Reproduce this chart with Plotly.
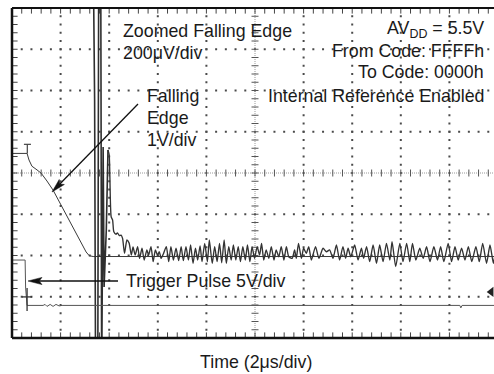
import numpy as np
import plotly.graph_objects as go

# ---------------------------------------------------------------------------
# Scope capture: DAC output stepping from code FFFFh to 0000h
# Time base 2 us/div; channel scales noted per trace.
# ---------------------------------------------------------------------------

# Zoomed falling edge, 200 uV/div (deviation from final output level, uV)
zoom_t = [3.34, 3.40, 3.44, 3.53, 3.57, 3.65, 3.69, 3.75, 3.79, 3.88,
          3.95, 4.00, 4.08, 4.14, 4.19, 4.28, 4.34, 4.42, 4.49, 4.55,
          4.63, 4.73, 4.82, 4.91, 4.98, 5.07, 5.17, 5.25, 5.35, 5.44,
          5.55, 5.62, 5.72, 5.81, 5.90, 5.99, 6.06, 6.14, 6.24, 6.35,
          6.45, 6.54, 6.64, 6.75, 6.86, 6.96, 7.05, 7.16, 7.26, 7.35,
          7.45, 7.55, 7.64, 7.74, 7.82, 7.93, 8.04, 8.12, 8.24, 8.34,
          8.44, 8.54, 8.63, 8.73, 8.82, 8.92, 9.02, 9.11, 9.21, 9.31,
          9.40, 9.50, 9.60, 9.69, 9.79, 9.88, 9.98, 10.09, 10.19, 10.27,
          10.36, 10.46, 10.57, 10.67, 10.78, 10.87, 10.98, 11.08, 11.19, 11.29,
          11.39, 11.53, 11.63, 11.70, 11.79, 11.91, 12.00, 12.11, 12.21, 12.32,
          12.49, 12.63, 12.80, 12.94, 13.07, 13.21, 13.35, 13.48, 13.62, 13.73,
          13.83, 13.94, 14.10, 14.24, 14.38, 14.47, 14.59, 14.72, 14.86, 15.00,
          15.13, 15.27, 15.41, 15.55, 15.64, 15.79, 15.96, 16.09, 16.24, 16.37,
          16.48, 16.62, 16.78, 16.92, 17.06, 17.20, 17.36, 17.51, 17.64, 17.77,
          17.95, 18.09, 18.23, 18.36, 18.50, 18.64, 18.78, 18.92, 19.09, 19.23,
          19.37, 19.53, 19.67, 19.81, 19.88, 20.00]
zoom_uv = [1500, 759, -600, -600, 1500, 1500, -600, 531, -148, 129,
           517, 492, 193, 177, 120, 108, 115, 101, 104, 88,
           16, 80, 65, 7, 46, 7, 48, -9, 40, -17,
           32, 7, 48, -25, 32, 7, 23, -9, 16, 48,
           -25, 48, -17, 40, -20, 48, -20, 48, -17, 56,
           -33, 40, -17, 51, -25, 64, -25, 80, -33, 48,
           -25, 64, -30, 80, -33, 48, -17, 56, -17, 48,
           -25, 48, -17, 56, -25, 48, -9, 48, 7, 64,
           -17, 32, -9, 48, -17, 32, -1, 48, -17, 48,
           -1, -9, 32, -9, 64, -9, 40, 16, 48, -17,
           48, -9, 40, 23, 32, -9, 56, -17, 48, -9,
           40, -1, 56, -17, 40, -9, 48, -25, 56, -33,
           56, -25, 64, -17, 72, -49, 64, -25, 64, -25,
           64, -17, 40, -9, 48, -25, 48, -17, 48, -25,
           64, -25, 48, -17, 40, -17, 48, -25, 48, -25,
           64, -33, 56, -33, 7, 30]
N_GLITCH = 10  # first samples: glitch swinging across the whole screen

# Falling edge, 1 V/div (output voltage, V)
edge_t = [0.00, 0.62, 0.70, 0.82, 1.03, 1.20, 1.44, 1.69, 3.05, 3.18, 3.34, 20.00]
edge_v = [2.50, 2.50, 2.34, 2.19, 2.10, 2.02, 1.83, 1.61, 0.11, 0.02, 0.00, 0.00]
# channel reference marker (T) for the falling-edge trace
edge_ref_t = [0.49, 0.78, None, 0.63, 0.63]
edge_ref_v = [2.72, 2.72, None, 2.72, 2.50]

# Trigger pulse, 5 V/div (V)
trig_t = [0.00, 0.54, 0.56, 0.62, 1.28, 1.36, 1.44, 1.57, 1.69, 1.81,
          1.94, 2.06, 18.43, 18.47, 18.52, 20.00]
trig_v = [5.50, 5.50, 2.10, 0.00, 0.00, 0.12, -0.12, 0.12, -0.12, 0.12,
          -0.06, 0.00, 0.00, -0.30, 0.00, 0.00]
# ground marker (+) for the trigger channel
trig_ref_t = [0.41, 0.82, None, 0.62, 0.62]
trig_ref_v = [1.03, 1.03, None, 2.10, -0.67]
# trigger level indicator
trig_level_t = [19.72]
trig_level_v = [1.64]

assert len(zoom_t) == len(zoom_uv)

# ---------------------------------------------------------------------------
# Screen geometry: 8 vertical divisions, time window of ~9.9 divisions
# ---------------------------------------------------------------------------
US_PER_DIV = 2.0
X_END = 19.835
N_YDIV = 8

# where each channel's zero sits on screen (in divisions from the bottom)
EDGE_ZERO_DIV = 1.975
ZOOM_ZERO_DIV = 1.975
TRIG_ZERO_DIV = 0.79

def chan_range(zero_div, per_div):
    return [-zero_div * per_div, (N_YDIV - zero_div) * per_div]

INK = "#1a1a1a"
FONT = "Liberation Sans, Arial, Helvetica, sans-serif"
FS = 17.8

fig = go.Figure()

# --- graticule -------------------------------------------------------------
minor_x = np.arange(0, X_END + 1e-9, US_PER_DIV / 5)
minor_y = np.arange(0, N_YDIV + 1e-9, 0.2)
major_x = [k * US_PER_DIV for k in range(1, 10) if k != 5]
major_y = [k for k in range(1, N_YDIV) if k != 4]

gx, gy = [], []
for xv in major_x:
    gx += [xv] * len(minor_y)
    gy += list(minor_y)
for yv in major_y:
    gx += list(minor_x)
    gy += [yv] * len(minor_x)
fig.add_trace(go.Scatter(x=gx, y=gy, mode="markers", hoverinfo="skip",
                         marker=dict(symbol="square", size=2, color="#4a4a4a",
                                     line=dict(width=0))))

# centre cross-hair: fine dotted lines with minor ticks
cx = 5 * US_PER_DIV
fig.add_trace(go.Scatter(x=[0, X_END], y=[4, 4], mode="lines", hoverinfo="skip",
                         line=dict(color="#9a9a9a", width=1, dash="1px,1px")))
fig.add_trace(go.Scatter(x=[cx, cx], y=[0, N_YDIV], mode="lines", hoverinfo="skip",
                         line=dict(color="#9a9a9a", width=1, dash="1px,1px")))
fig.add_trace(go.Scatter(x=minor_x, y=[4] * len(minor_x), mode="markers",
                         hoverinfo="skip",
                         marker=dict(symbol="line-ns", size=5,
                                     line=dict(color="#555", width=1))))
fig.add_trace(go.Scatter(x=[cx] * len(minor_y), y=minor_y, mode="markers",
                         hoverinfo="skip",
                         marker=dict(symbol="line-ew", size=5,
                                     line=dict(color="#555", width=1))))

# ticks along the frame
fig.add_trace(go.Scatter(x=list(minor_x) * 2,
                         y=[N_YDIV] * len(minor_x) + [0] * len(minor_x),
                         mode="markers", hoverinfo="skip",
                         marker=dict(symbol="line-ns", size=8,
                                     line=dict(color="#444", width=1))))
fig.add_trace(go.Scatter(x=[0] * len(minor_y), y=minor_y,
                         mode="markers", hoverinfo="skip",
                         marker=dict(symbol="line-ew", size=8,
                                     line=dict(color="#444", width=1))))

# --- traces ----------------------------------------------------------------
fig.add_trace(go.Scatter(x=trig_t, y=trig_v, yaxis="y4", mode="lines",
                         hoverinfo="skip", line=dict(color="#555", width=1)))
fig.add_trace(go.Scatter(x=trig_ref_t, y=trig_ref_v, yaxis="y4", mode="lines",
                         hoverinfo="skip", line=dict(color="#333", width=1.3)))
fig.add_trace(go.Scatter(x=trig_level_t, y=trig_level_v, yaxis="y4",
                         mode="markers", hoverinfo="skip",
                         marker=dict(symbol="triangle-left", size=9, color="#222")))

fig.add_trace(go.Scatter(x=edge_t, y=edge_v, yaxis="y2", mode="lines",
                         hoverinfo="skip", line=dict(color="#3a3a3a", width=1)))
fig.add_trace(go.Scatter(x=edge_ref_t, y=edge_ref_v, yaxis="y2", mode="lines",
                         hoverinfo="skip", line=dict(color="#444", width=1.2)))

fig.add_trace(go.Scatter(x=zoom_t[:N_GLITCH + 1], y=zoom_uv[:N_GLITCH + 1],
                         yaxis="y3", mode="lines", hoverinfo="skip",
                         line=dict(color="#2e2e2e", width=1.6)))
fig.add_trace(go.Scatter(x=zoom_t[N_GLITCH:], y=zoom_uv[N_GLITCH:],
                         yaxis="y3", mode="lines", hoverinfo="skip",
                         line=dict(color="#333", width=1.35, shape="spline",
                                   smoothing=0.6)))

# --- layout helpers (pixel -> paper) ---------------------------------------
W, H = 494, 374
ML, MT, MB = 12, 8, 36
PW, PH = W - ML, H - MT - MB

def px(xp):
    return (xp - ML) / PW

def py(yp):
    return (H - MB - yp) / PH

# --- frame (no right edge: the screen runs past the window) -----------------
frame = dict(type="line", xref="paper", yref="paper", layer="above",
             line=dict(color="#111", width=2.5))
shapes = [
    dict(frame, x0=0, x1=0, y0=0, y1=1),
    dict(frame, x0=0, x1=1, y0=1, y1=1, line=dict(color="#111", width=2)),
    dict(frame, x0=0, x1=1, y0=0, y1=0),
]

# callout arrows: a shaft plus a filled, slightly notched head
def arrow_shapes(tip, tail, length=14.0, half=3.6, color="#111"):
    tip = np.asarray(tip, float)
    tail = np.asarray(tail, float)
    u = (tip - tail) / np.linalg.norm(tip - tail)
    n = np.array([-u[1], u[0]])
    back = tip - u * length
    left, right = back + n * half, back - n * half
    notch = tip - u * length * 0.8
    pts = [tip, left, notch, right]
    path = "M " + " L ".join(f"{px(p[0]):.5f},{py(p[1]):.5f}" for p in pts) + " Z"
    return [
        dict(type="line", xref="paper", yref="paper", layer="above",
             x0=px(tail[0]), y0=py(tail[1]), x1=px(notch[0]), y1=py(notch[1]),
             line=dict(color=color, width=1.3)),
        dict(type="path", xref="paper", yref="paper", layer="above", path=path,
             fillcolor=color, line=dict(color=color, width=0.5)),
    ]

shapes += arrow_shapes((52, 192), (138, 104))
shapes += arrow_shapes((28, 281), (118, 281))

# --- labels ----------------------------------------------------------------
def label(text, xp, yp, anchor="left", size=FS):
    return dict(text=text, x=px(xp), y=py(yp), xref="paper", yref="paper",
                xanchor=anchor, yanchor="middle", showarrow=False,
                align=anchor, font=dict(family=FONT, size=size, color=INK))

annotations = [
    label("Zoomed Falling Edge", 121, 31),
    label("200\u03bcV/div", 121, 53),
    label("AV<sub>DD</sub> = 5.5V", 486, 30, anchor="right"),
    label("From Code: FFFFh", 486, 51, anchor="right"),
    label("To Code: 0000h", 486, 72, anchor="right"),
    label("Internal Reference Enabled", 486, 96, anchor="right"),
    label("Falling", 145, 96),
    label("Edge", 145, 118),
    label("1V/div", 145, 140),
    label("Trigger Pulse 5V/div", 124, 281),
    label("Time (2\u03bcs/div)", 256, 362, anchor="center"),
]

hidden = dict(visible=False, showgrid=False, zeroline=False, fixedrange=True)
fig.update_layout(
    width=W, height=H,
    margin=dict(l=ML, r=0, t=MT, b=MB, pad=0),
    paper_bgcolor="white", plot_bgcolor="white",
    showlegend=False,
    xaxis=dict(hidden, range=[0, X_END]),
    yaxis=dict(hidden, range=[0, N_YDIV]),
    yaxis2=dict(hidden, overlaying="y", range=chan_range(EDGE_ZERO_DIV, 1.0)),
    yaxis3=dict(hidden, overlaying="y", range=chan_range(ZOOM_ZERO_DIV, 200.0)),
    yaxis4=dict(hidden, overlaying="y", range=chan_range(TRIG_ZERO_DIV, 5.0)),
    shapes=shapes,
    annotations=annotations,
)

fig.write_html("out.html", config={"displayModeBar": False})
